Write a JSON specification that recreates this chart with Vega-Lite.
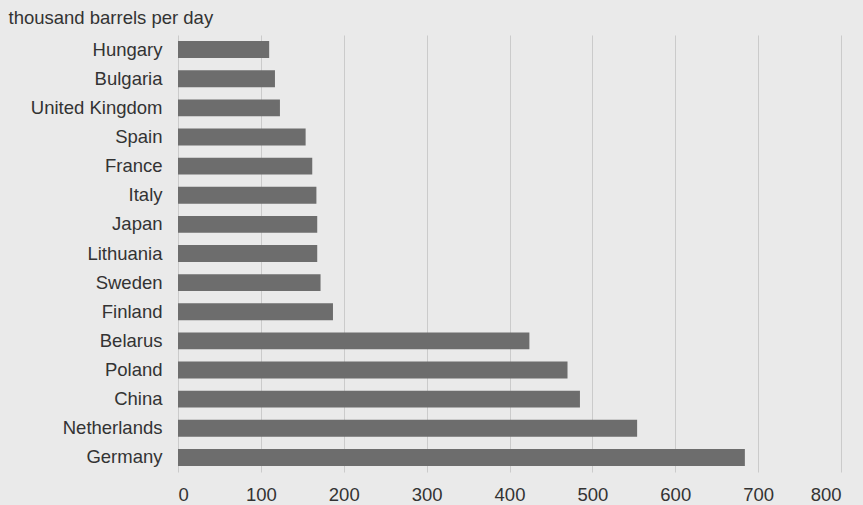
{
  "$schema": "https://vega.github.io/schema/vega-lite/v6.json",
  "width": 663,
  "height": 437,
  "autosize": {"type": "none"},
  "padding": {"left": 178, "top": 35, "right": 22, "bottom": 33},
  "background": "#eaeaea",
  "config": {"view": {"stroke": null}, "font": "Liberation Sans"},
  "data": {
    "values": [
      {"country": "Hungary", "value": 110},
      {"country": "Bulgaria", "value": 117},
      {"country": "United Kingdom", "value": 123},
      {"country": "Spain", "value": 154},
      {"country": "France", "value": 162},
      {"country": "Italy", "value": 167},
      {"country": "Japan", "value": 168},
      {"country": "Lithuania", "value": 168},
      {"country": "Sweden", "value": 172},
      {"country": "Finland", "value": 187},
      {"country": "Belarus", "value": 424},
      {"country": "Poland", "value": 470},
      {"country": "China", "value": 485},
      {"country": "Netherlands", "value": 554},
      {"country": "Germany", "value": 684}
    ]
  },
  "mark": {"type": "bar", "color": "#6d6d6d"},
  "encoding": {
    "y": {
      "field": "country",
      "type": "nominal",
      "sort": null,
      "scale": {"paddingInner": 0.42, "paddingOuter": 0.21},
      "axis": {
        "title": "thousand barrels per day",
        "titleAngle": 0,
        "titleX": -170,
        "titleY": -27,
        "titleAlign": "left",
        "titleBaseline": "top",
        "titleFontSize": 18.5,
        "titleFontWeight": "normal",
        "titleColor": "#333333",
        "labelFontSize": 18.5,
        "labelColor": "#333333",
        "labelPadding": 16,
        "ticks": false,
        "domain": false,
        "grid": false
      }
    },
    "x": {
      "field": "value",
      "type": "quantitative",
      "scale": {"domain": [0, 800], "nice": false},
      "axis": {
        "title": null,
        "values": [0, 100, 200, 300, 400, 500, 600, 700, 800],
        "grid": true,
        "gridColor": "#cbcbcb",
        "gridWidth": 1,
        "domain": false,
        "ticks": false,
        "labelFontSize": 18.5,
        "labelColor": "#333333",
        "labelPadding": 13
      }
    }
  }
}
